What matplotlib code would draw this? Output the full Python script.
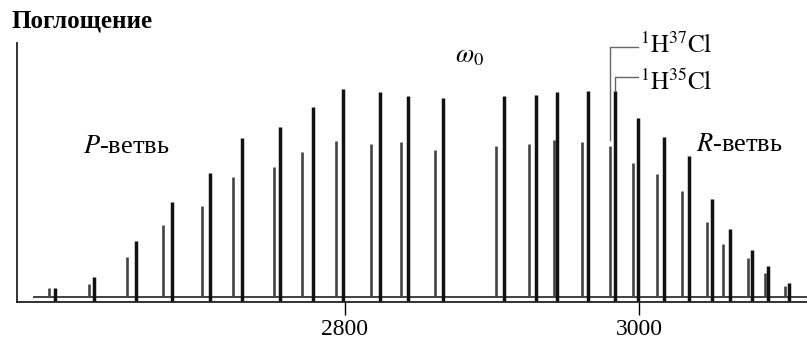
import matplotlib.pyplot as plt
import numpy as np

plt.rcParams['font.family'] = ['Liberation Serif', 'DejaVu Serif']
plt.rcParams['mathtext.fontset'] = 'stix'

# line positions (cm^-1) and relative intensities
h35_pos = [2603, 2629, 2658, 2682, 2708, 2730, 2756, 2778, 2799, 2824, 2843, 2867,
           2908, 2930, 2944, 2965, 2984, 2999, 3017, 3034, 3050, 3062, 3077, 3088, 3102]
h35_int = [4.3, 9.6, 26.9, 45.7, 59.6, 76.4, 81.7, 91.3, 100, 98.6, 96.6, 95.7,
           96.6, 97.1, 98.6, 99.0, 99.0, 86.1, 76.9, 67.8, 47.1, 32.7, 22.6, 14.9, 6.7]
h37_pos = [2599, 2626, 2652, 2676, 2703, 2724, 2752, 2771, 2794, 2818, 2838, 2861,
           2903, 2925, 2942, 2961, 2980, 2996, 3012, 3029, 3046, 3057, 3074, 3086, 3099]
h37_int = [4.3, 6.3, 19.2, 34.6, 43.8, 57.7, 62.5, 69.7, 75.0, 73.6, 74.5, 70.7,
           72.6, 73.6, 75.5, 74.5, 72.6, 64.4, 59.1, 51.0, 36.1, 25.5, 18.8, 11.5, 5.3]
ticks = [2800, 3000]

fig = plt.figure(figsize=(8.07, 3.40), dpi=100)
ax = fig.add_axes([17/807, 38/340, 790/807, 259/340])
ax.set_xlim(2576.9, 3114.3)
ax.set_ylim(-2.4, 122.1)

ax.hlines(0, 2588, 3114.3, color='#333333', lw=1.3)
ax.vlines(h37_pos, 0, h37_int, color='#444444', lw=1.9)
ax.vlines(h35_pos, -2.4, h35_int, color='#111111', lw=2.5)

# isotope labels with brackets
i = 16
ax.plot([h37_pos[i], h37_pos[i], 2999], [h37_int[i] + 3, 120.2, 120.2],
        color='#666666', lw=1.0)
ax.plot([h35_pos[i], h35_pos[i], 2999], [h35_int[i], 105.8, 105.8],
        color='#666666', lw=1.0)
ax.text(3000.5, 121, r'$^{1}\mathrm{H}^{37}\mathrm{Cl}$', fontsize=18, va='center')
ax.text(3000.5, 103.4, r'$^{1}\mathrm{H}^{35}\mathrm{Cl}$', fontsize=18, va='center')

ax.text(2622, 72, r'$P$-ветвь', fontsize=19, va='center')
ax.text(3039, 73, r'$R$-ветвь', fontsize=19, va='center')
ax.text(2885, 115.5, r'$\omega_0$', fontsize=19, va='center', ha='center')

fig.text(11/807, 1 - 21/340, 'Поглощение', fontsize=18, fontweight='bold', va='center')

for s in ['top', 'right']:
    ax.spines[s].set_visible(False)
for s in ['left', 'bottom']:
    ax.spines[s].set_linewidth(1.3)
    ax.spines[s].set_color('#222222')
ax.set_xticks(ticks)
ax.set_yticks([])
ax.tick_params(axis='x', direction='out', length=9, width=1, pad=3, labelsize=17)

fig.savefig('out.png', dpi=100)
